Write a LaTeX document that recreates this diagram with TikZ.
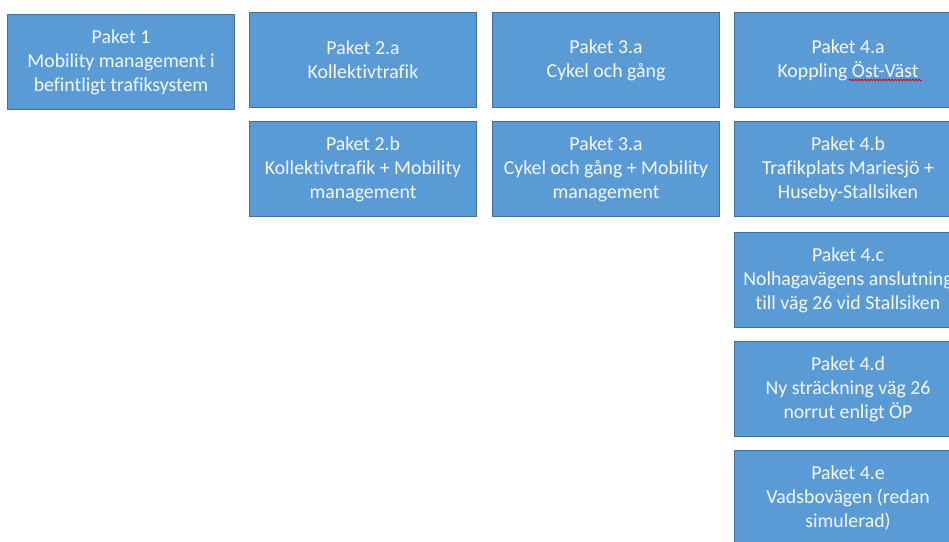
\documentclass[tikz,border=0pt]{standalone}
\usepackage{fontspec}
\setmainfont[Ligatures=NoCommon]{Carlito}
\usetikzlibrary{decorations.pathmorphing}
\definecolor{boxfill}{HTML}{5B9BD5}
\definecolor{boxline}{HTML}{41719C}
\definecolor{boxtext}{HTML}{F4F8FC}
\begin{document}
\begin{tikzpicture}[x=1pt,y=-1pt,
  pkt/.style={draw=boxline,line width=1pt,fill=boxfill,text=boxtext,
    minimum width=227pt,minimum height=95pt,inner sep=0pt,align=center,
    font=\fontsize{19.8}{24}\selectfont,anchor=north west}]
\useasboundingbox (0,0) rectangle (949,541);
\clip (0,0) rectangle (949,541);
\fill[white] (0,0) rectangle (949,541);
\node[pkt] (p1) at (7,14) {Paket 1\\Mobility management i\\befintligt trafiksystem};
\node[pkt] (p2a) at (249,12) {Paket 2.a\\Kollektivtrafik};
\node[pkt] (p2b) at (249,121) {Paket 2.b\\Kollektivtrafik + Mobility\\management};
\node[pkt] (p3a) at (492,12) {Paket 3.a\\Cykel och gång};
\node[pkt] (p3b) at (492,121) {Paket 3.a\\Cykel och gång + Mobility\\management};
\node[pkt] (p4a) at (734,12) {Paket 4.a\\Koppling Öst-Väst};
\node[pkt] (p4b) at (734,121) {Paket 4.b\\Trafikplats Mariesjö +\\Huseby-Stallsiken};
\node[pkt] (p4c) at (734,232) {Paket 4.c\\Nolhagavägens anslutning\\till väg 26 vid Stallsiken};
\node[pkt] (p4d) at (734,341) {Paket 4.d\\Ny sträckning väg 26\\norrut enligt ÖP};
\node[pkt] (p4e) at (734,450) {Paket 4.e\\Vadsbovägen (redan\\simulerad)};
\coordinate (w1) at (849,80);
\coordinate (w2) at (922,80);
\draw[red!85!black,line width=0.7pt,decorate,decoration={snake,amplitude=0.9pt,segment length=3pt}] (w1) -- (w2);
\end{tikzpicture}
\end{document}
